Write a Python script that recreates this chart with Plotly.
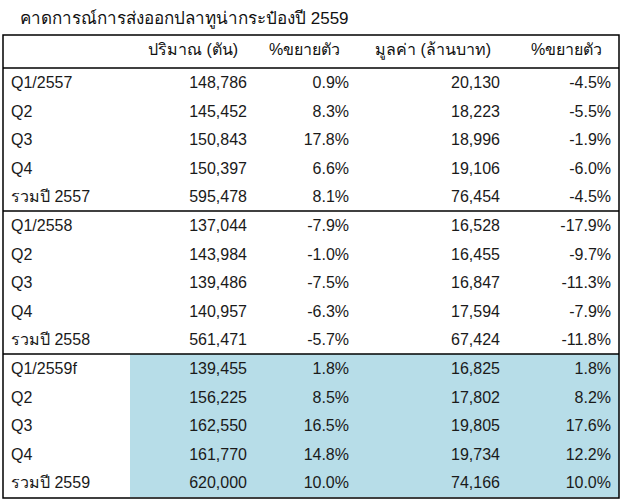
import plotly.graph_objects as go

TITLE = "คาดการณ์การส่งออกปลาทูน่ากระป๋องปี 2559"
HEADERS = ["", "ปริมาณ (ตัน)", "%ขยายตัว", "มูลค่า (ล้านบาท)", "%ขยายตัว"]

periods = ["Q1/2557", "Q2", "Q3", "Q4", "รวมปี 2557",
           "Q1/2558", "Q2", "Q3", "Q4", "รวมปี 2558",
           "Q1/2559f", "Q2", "Q3", "Q4", "รวมปี 2559"]
volumes = [148786, 145452, 150843, 150397, 595478,
           137044, 143984, 139486, 140957, 561471,
           139455, 156225, 162550, 161770, 620000]
volume_growth = [0.9, 8.3, 17.8, 6.6, 8.1,
                 -7.9, -1.0, -7.5, -6.3, -5.7,
                 1.8, 8.5, 16.5, 14.8, 10.0]
values = [20130, 18223, 18996, 19106, 76454,
          16528, 16455, 16847, 17594, 67424,
          16825, 17802, 19805, 19734, 74166]
value_growth = [-4.5, -5.5, -1.9, -6.0, -4.5,
                -17.9, -9.7, -11.3, -7.9, -11.8,
                1.8, 8.2, 17.6, 12.2, 10.0]

is_forecast = [i >= 10 for i in range(len(periods))]

BLUE = "#b7dde8"
WHITE = "#ffffff"
FONT = "Liberation Sans, Arial, sans-serif"

W, H = 623, 504
M = dict(l=3, r=4, t=35, b=6)
HEADER_H = 33
ROW_H = 28.6

col_vol = [f"{v:,}" for v in volumes]
col_vg = [f"{v:.1f}%" for v in volume_growth]
col_val = [f"{v:,}" for v in values]
col_valg = [f"{v:.1f}%" for v in value_growth]

# headers sit a little left of the numbers
pad = "\u00a0\u00a0"
header_text = [HEADERS[0]] + [h + pad for h in HEADERS[1:]]

fills = [[WHITE] * len(periods)]
for _ in range(4):
    fills.append([BLUE if f else WHITE for f in is_forecast])

fig = go.Figure(go.Table(
    columnwidth=[127, 125, 102, 151, 111],
    header=dict(
        values=header_text,
        height=HEADER_H,
        align=["left", "right", "right", "right", "right"],
        fill_color=WHITE,
        line=dict(width=0, color=WHITE),
        font=dict(family=FONT, size=16, color="#111111"),
    ),
    cells=dict(
        values=[periods, col_vol, col_vg, col_val, col_valg],
        height=ROW_H,
        align=["left", "right", "right", "right", "right"],
        fill_color=fills,
        line=dict(width=0, color=fills),
        font=dict(family=FONT, size=16, color="#1a1a1a"),
    ),
))

# table frame and group separators (paper coordinates)
plot_h = H - M["t"] - M["b"]


def py(px_from_top):
    return 1 - (px_from_top - M["t"]) / plot_h


line = dict(color="#000000", width=1.5)
shapes = [dict(type="rect", xref="paper", yref="paper", x0=0, x1=1, y0=0, y1=1, line=line)]
for k in [0, 5, 10]:
    y = py(M["t"] + HEADER_H + k * ROW_H)
    shapes.append(dict(type="line", xref="paper", yref="paper", x0=0, x1=1, y0=y, y1=y, line=line))

fig.update_layout(
    width=W,
    height=H,
    margin=M,
    paper_bgcolor=WHITE,
    shapes=shapes,
    title=dict(
        text=TITLE,
        x=20 / W,
        xanchor="left",
        y=1 - 18 / H,
        yanchor="middle",
        font=dict(family=FONT, size=17, color="#111111"),
    ),
)

fig.write_html("out.html", config={"displayModeBar": False},
               post_script="document.body.style.margin='0';")
